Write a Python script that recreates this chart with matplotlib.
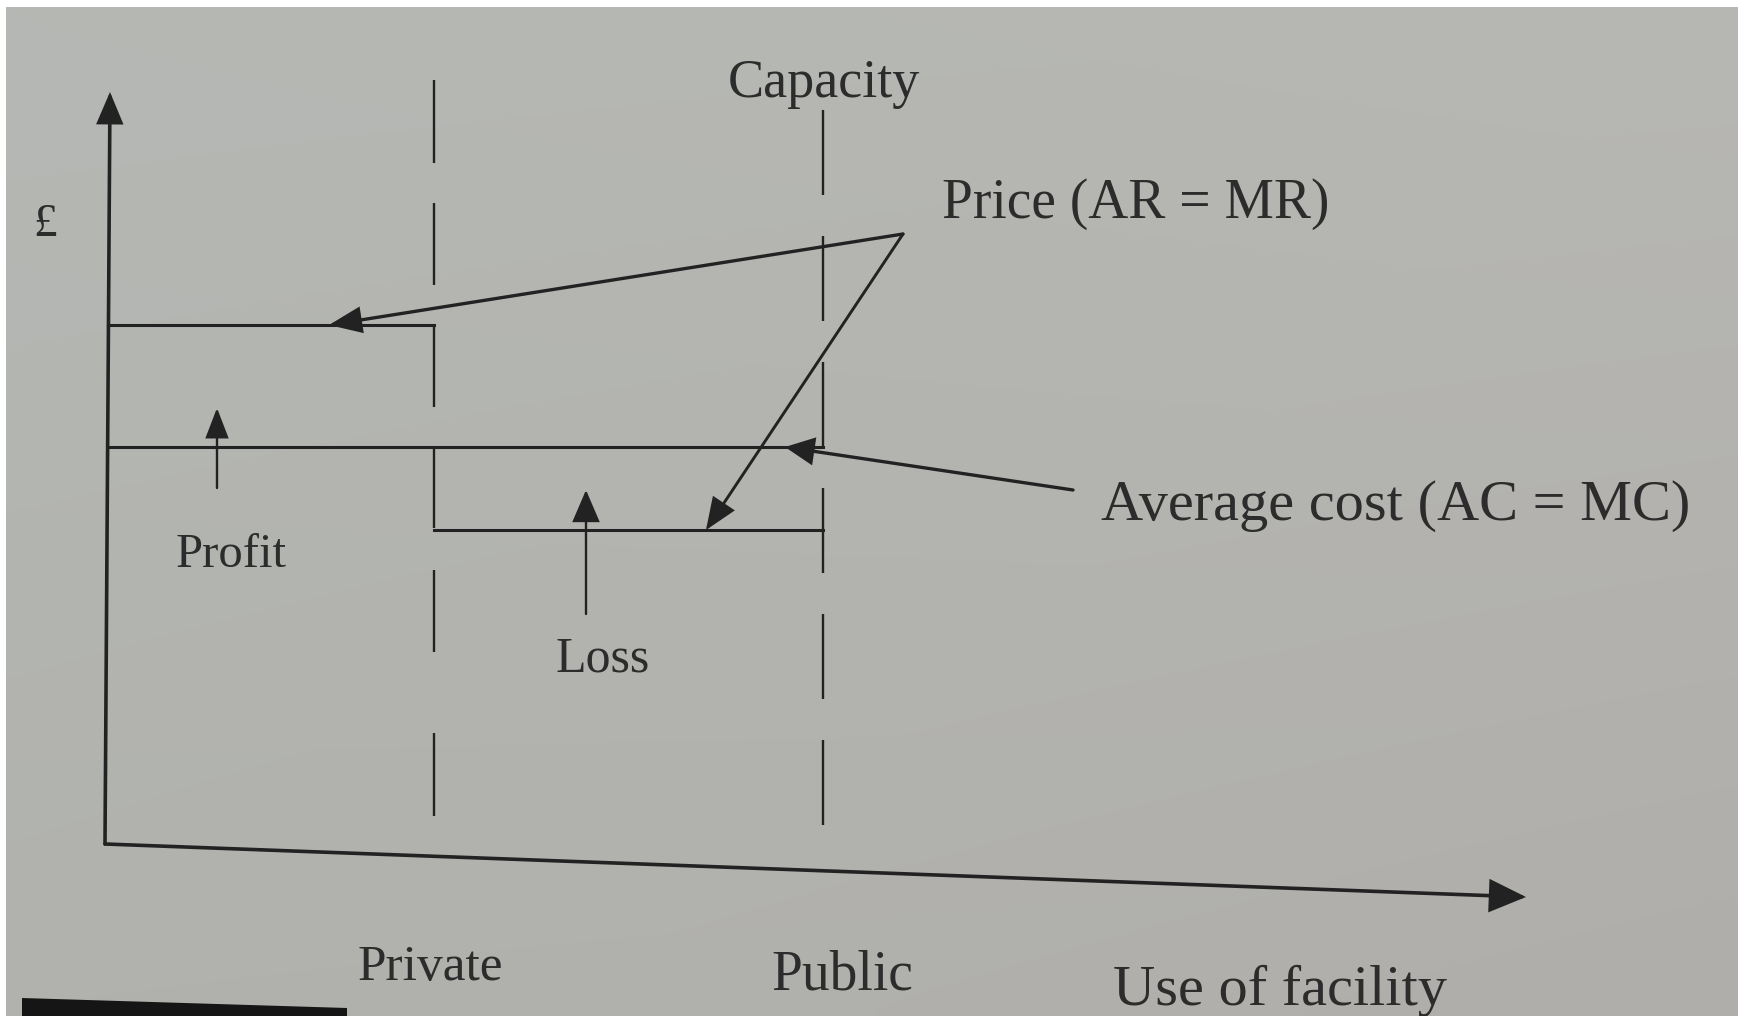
import matplotlib
matplotlib.use("Agg")
import matplotlib.pyplot as plt
import numpy as np
from matplotlib.patches import FancyArrowPatch, ArrowStyle, Polygon

plt.rcParams["lines.scale_dashes"] = False
plt.rcParams["font.family"] = ["Liberation Serif", "DejaVu Serif"]

# ---------------- data (diagram units: origin at the axes corner, y = £, x = use) ----
use_levels = ["Private", "Public"]
use_x = [329, 718]              # private use level, public use level (= capacity)
price_levels = [519, 314]       # price (AR = MR) under private / public use
average_cost = 397              # average cost (AC = MC), constant up to capacity
y_axis_label = "£"
x_axis_label = "Use of facility"
capacity_label = "Capacity"
price_label = "Price (AR = MR)"
cost_label = "Average cost (AC = MC)"
region_labels = ["Profit", "Loss"]

# ---------------- layout ----------------
W, H, DPI = 1744, 1016, 100
OX, OY = 105, 844                 # origin position in pixels
INK = "#222222"
TXT = "#2c2c2c"
PX = 72.0 / DPI                   # pixels -> points


def P(px, py):
    """layout pixel position -> diagram coordinates"""
    return (px - OX, OY - py)


fig = plt.figure(figsize=(W / DPI, H / DPI), dpi=DPI, facecolor="white")
ax = fig.add_axes([0, 0, 1, 1])
ax.set_xlim(-OX, W - OX)
ax.set_ylim(OY - H, OY)
ax.axis("off")

# photographed page background (inside a thin white border)
corners = np.array([[[181, 184, 180], [183, 183, 179]],
                    [[177, 178, 174], [176, 174, 170]]], dtype=float) / 255.0
gy, gx = np.mgrid[0:1:60j, 0:1:100j]
bg = (corners[0, 0] * ((1 - gx) * (1 - gy))[..., None]
      + corners[0, 1] * (gx * (1 - gy))[..., None]
      + corners[1, 0] * ((1 - gx) * gy)[..., None]
      + corners[1, 1] * (gx * gy)[..., None])
x0, y0 = P(6, 7)
x1, y1 = P(1737, 1016)
ax.imshow(bg, extent=(x0, x1, y1, y0), aspect="auto", zorder=0, interpolation="bicubic")

# black caption tab at bottom-left
ax.add_patch(Polygon([P(22, 998), P(347, 1008), P(347, 1016), P(22, 1016)],
                     closed=True, facecolor="#151515", edgecolor="none", zorder=1))


def arrow(tail, tip, hl, hw, lw):
    ax.add_patch(FancyArrowPatch(tail, tip,
                                 arrowstyle=ArrowStyle("-|>", head_length=hl * PX, head_width=hw * PX),
                                 mutation_scale=1, shrinkA=0, shrinkB=0,
                                 lw=lw, color=INK, joinstyle="miter", zorder=5))


# axes (the photographed page is slightly tilted)
y_tip = P(110, 92)
x_tip = P(1526, 897)
arrow((0, 0), y_tip, 26, 11, 2.6)
arrow((0, 0), x_tip, 31, 14, 2.6)


def axis_x_at(y):
    return y_tip[0] * y / y_tip[1]


# dashed vertical lines at private use and at capacity (public use)
priv_top, priv_bot = P(0, 80)[1], P(0, 816)[1]
pub_top, pub_bot = P(0, 110)[1], P(0, 830)[1]
priv_dash = tuple(v * PX for v in (83, 40, 82, 40, 82, 40, 81, 42, 82, 81, 84))
pub_dash = tuple(v * PX for v in (85, 41))
ax.plot([use_x[0], use_x[0]], [priv_top, priv_bot], color=INK, lw=1.7,
        linestyle=(0, priv_dash), dash_capstyle="butt", zorder=4)
ax.plot([use_x[1], use_x[1]], [pub_top, pub_bot], color=INK, lw=1.7,
        linestyle=(0, pub_dash), dash_capstyle="butt", zorder=4)

# price and cost lines
ax.plot([axis_x_at(price_levels[0]), use_x[0]], [price_levels[0]] * 2, color=INK, lw=2.2, zorder=4)
ax.plot([use_x[0], use_x[1]], [price_levels[1]] * 2, color=INK, lw=2.2, zorder=4)
ax.plot([axis_x_at(average_cost), use_x[1]], [average_cost] * 2, color=INK, lw=2.2, zorder=4)

# pointer arrows
vertex = P(903, 234)
arrow(vertex, (224, price_levels[0]), 27, 11, 2.4)
arrow(vertex, (601, price_levels[1]), 27, 11, 2.1)
arrow(P(1073, 490), (680, average_cost), 24, 11.5, 2.4)

# profit / loss arrows
arrow(P(217, 488), P(217, 408), 26, 10, 1.7)
arrow(P(586, 614), P(586, 490), 28, 12, 1.7)

# text
def label(s, px, py, size, ha="center"):
    x, y = P(px, py)
    ax.text(x, y, s, fontsize=size, color=TXT, ha=ha, va="baseline", zorder=6)


label(y_axis_label, 45, 236, 34)
label(capacity_label, 824, 97, 39)
label(price_label, 1136, 218, 40)
label(cost_label, 1396, 520, 42)
label(region_labels[0], 231, 567, 35)
label(region_labels[1], 603, 671, 36)
label(use_levels[0], 430, 980, 37)
label(use_levels[1], 842, 990, 40)
label(x_axis_label, 1280, 1005, 42)

fig.savefig("out.png", dpi=DPI, facecolor="white")
